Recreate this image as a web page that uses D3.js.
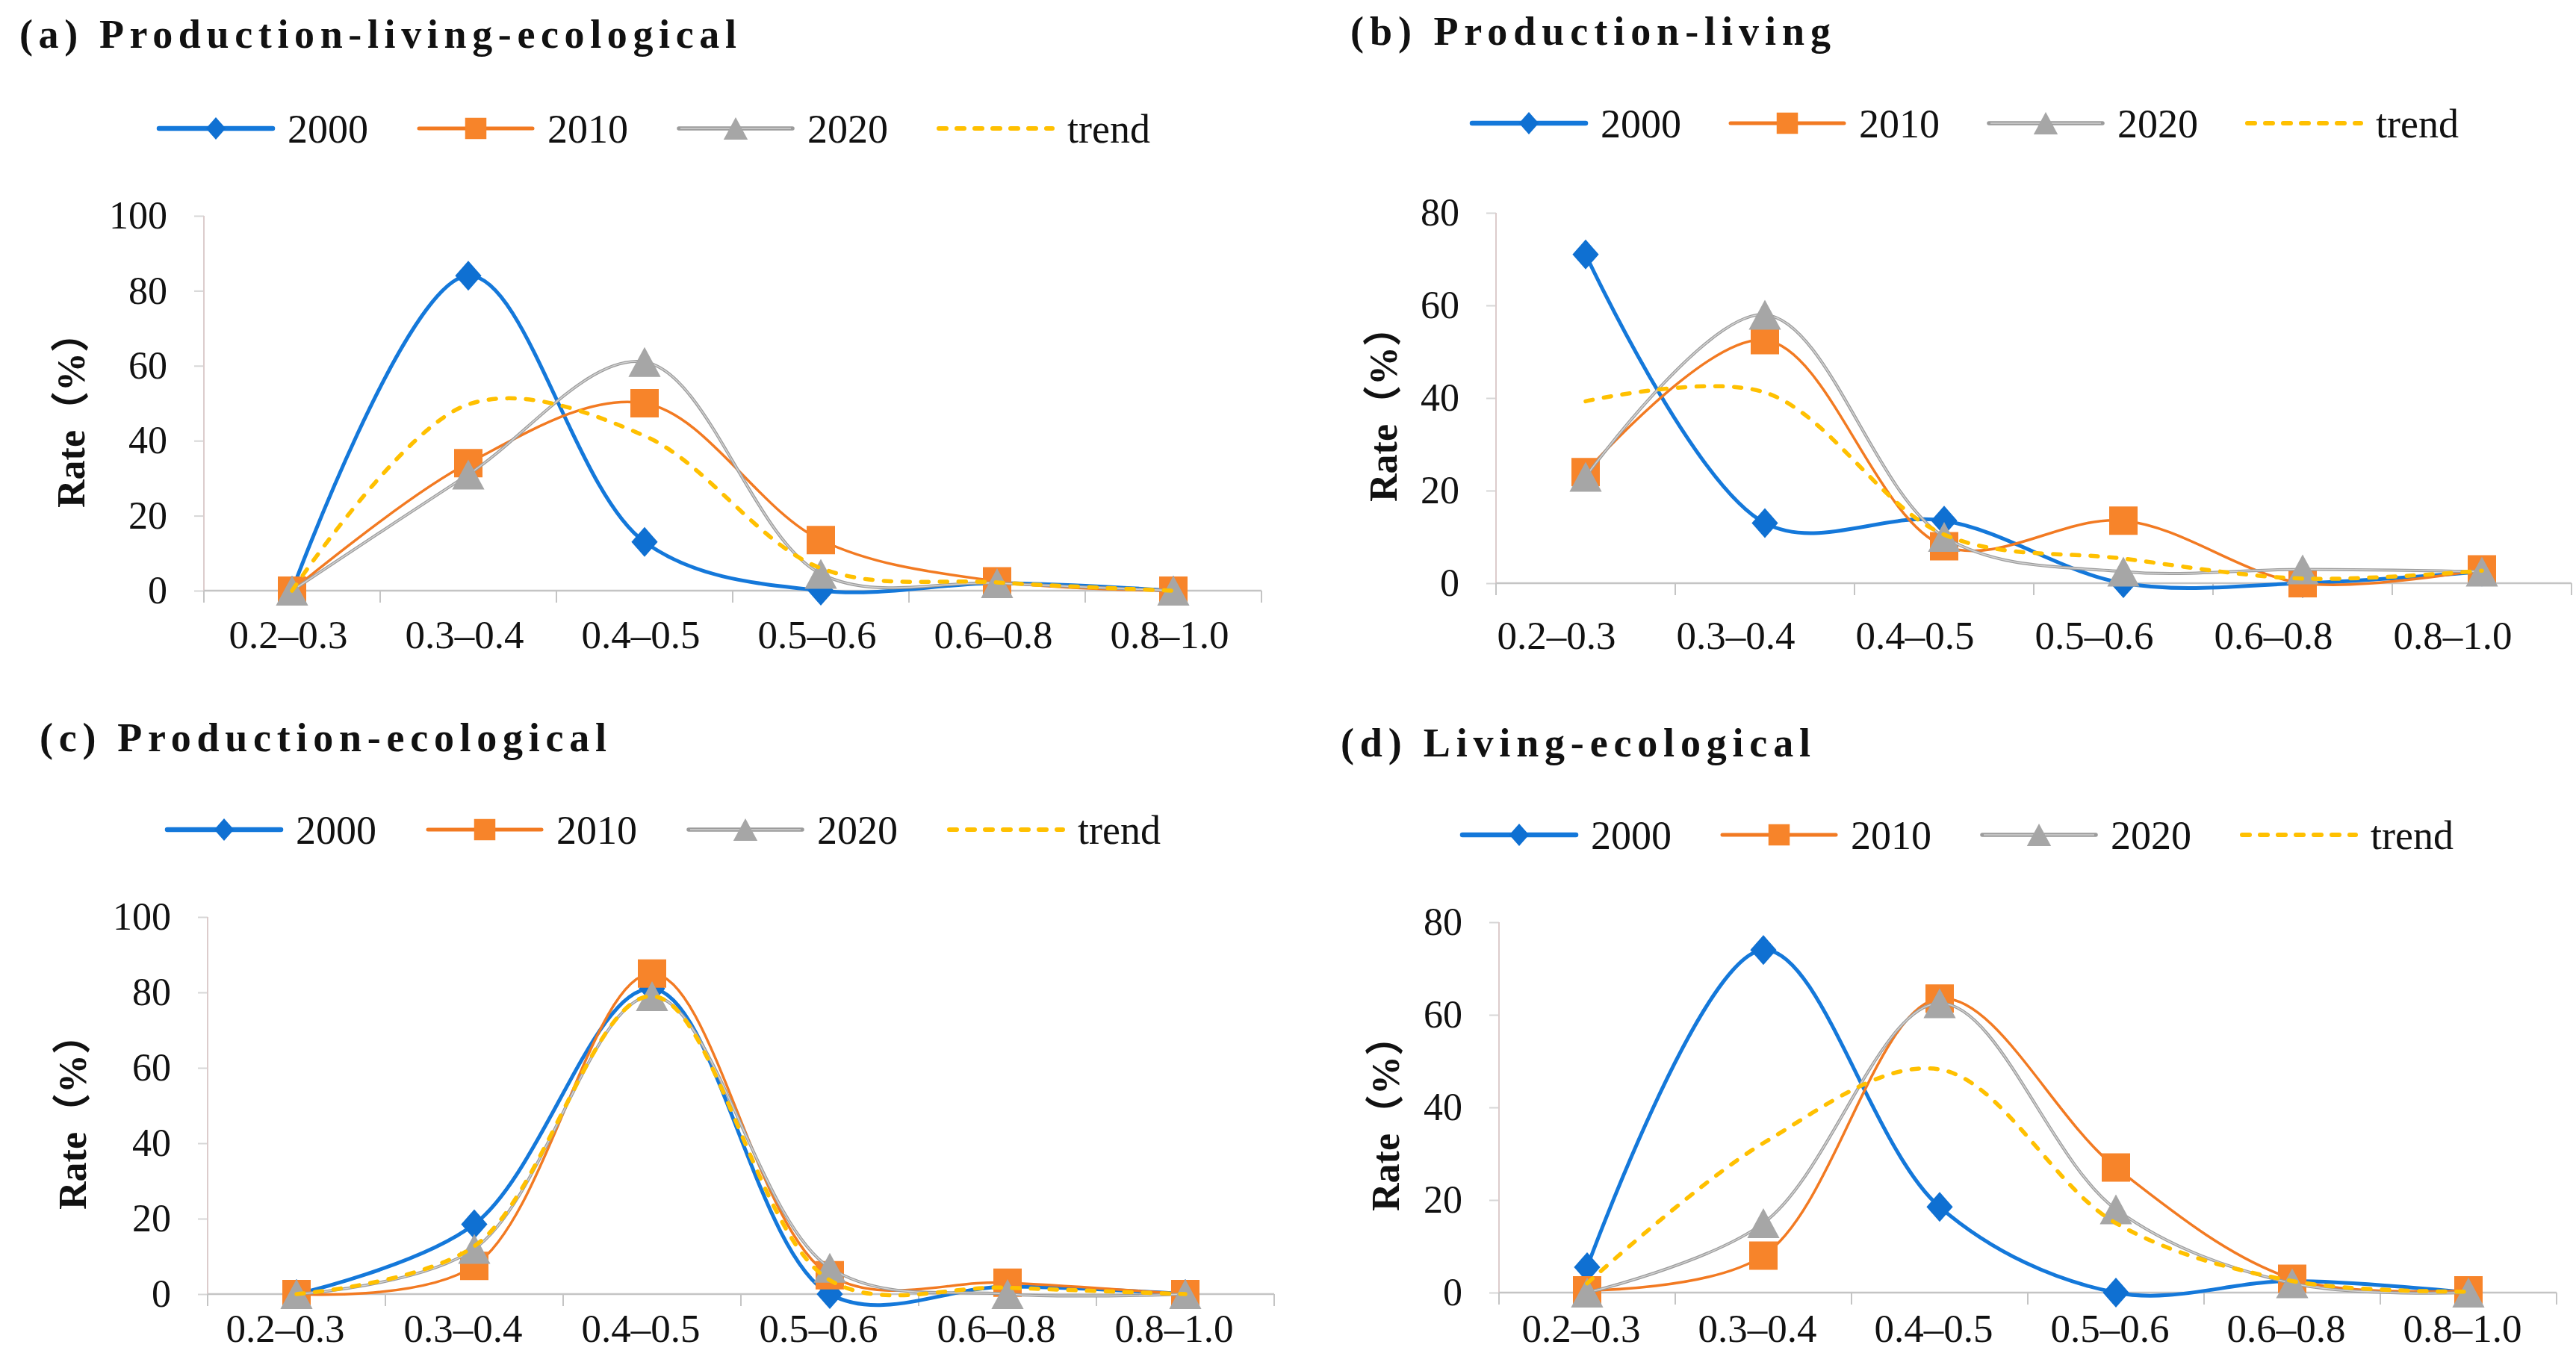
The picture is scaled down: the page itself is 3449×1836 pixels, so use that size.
<!DOCTYPE html>
<html><head><meta charset="utf-8">
<script src="https://cdn.jsdelivr.net/npm/d3@7"></script>
<style>html,body{margin:0;padding:0;background:#fff;} svg{display:block}</style>
</head><body>
<svg id="chart" width="3449" height="1836"></svg>
<script>
// ---------- data ----------
const categories = ["0.2–0.3", "0.3–0.4", "0.4–0.5", "0.5–0.6", "0.6–0.8", "0.8–1.0"];
const seriesNames = ["2000", "2010", "2020", "trend"];
const panelTitles = ["(a) Production-living-ecological", "(b) Production-living", "(c) Production-ecological", "(d) Living-ecological"];
const yAxisTitle = "Rate（%）";
const yTicks100 = [0, 20, 40, 60, 80, 100];
const yTicks80 = [0, 20, 40, 60, 80];

// (a) Production-living-ecological
const a2000 = [0, 84, 13, 0, 2, 0];
const a2010 = [0, 34, 50, 13.5, 2.5, 0];
const a2020 = [0, 31, 61, 4.5, 2, 0];
const aTrend = [0, 49.7, 41.3, 6, 2.2, 0];
// (b) Production-living
const b2000 = [71, 13, 13.5, 0, 0, 2.5];
const b2010 = [24, 52.5, 8, 13.5, 0, 3];
const b2020 = [23, 58, 10, 2.5, 3, 2.5];
const bTrend = [39.3, 41.2, 10.5, 5.3, 1, 2.7];
// (c) Production-ecological
const c2000 = [0, 18.5, 81, 0, 2, 0];
const c2010 = [0, 7.5, 85, 5, 3, 0];
const c2020 = [0, 12, 79, 7, 0, 0];
const cTrend = [0, 12.7, 79, 3.7, 1.7, 0];
// (d) Living-ecological
const d2000 = [5.5, 74, 18.5, 0, 2.5, 0];
const d2010 = [0.5, 8, 63.5, 27, 3, 0.5];
const d2020 = [0, 15, 62.5, 18, 2, 0];
const dTrend = [2, 32.3, 48.2, 15, 2.5, 0.2];

// ---------- layout / style ----------
const panels = [
  {title: panelTitles[0], series: [a2000, a2010, a2020, aTrend], ymax: 100, ticks: yTicks100,
   tx: 26, ty: 64, tw: 960, lx: 213, ly: 172, lp: 348,
   left: 273, band: 236, y0: 791, yTop: 289, labelDx: -5, labelBase: 77, atx: 113, aty: 550},
  {title: panelTitles[1], series: [b2000, b2010, b2020, bTrend], ymax: 80, ticks: yTicks80,
   tx: 1808, ty: 60, tw: 643, lx: 1971, ly: 165, lp: 346,
   left: 2003, band: 240, y0: 781, yTop: 285, labelDx: -39, labelBase: 88, atx: 1870, aty: 542},
  {title: panelTitles[2], series: [c2000, c2010, c2020, cTrend], ymax: 100, ticks: yTicks100,
   tx: 53, ty: 1006, tw: 759, lx: 224, ly: 1111, lp: 349,
   left: 278, band: 238, y0: 1733, yTop: 1228, labelDx: -15, labelBase: 64, atx: 115, aty: 1490},
  {title: panelTitles[3], series: [d2000, d2010, d2020, dTrend], ymax: 80, ticks: yTicks80,
   tx: 1795, ty: 1013, tw: 629, lx: 1958, ly: 1118, lp: 348,
   left: 2007, band: 236, y0: 1731, yTop: 1235, labelDx: -8, labelBase: 66, atx: 1873, aty: 1492}
];

const serif = "Liberation Serif, DejaVu Serif, Noto Sans CJK SC, serif";
const styles = [
  {stroke: "#1478DA", width: 5, fill: "#0F70D2", marker: "diamond"},
  {stroke: "#F27A22", width: 3.5, fill: "#F7842A", marker: "square"},
  {stroke: "#9c9c9c", width: 4, inner: "#d2d2d2", fill: "#A6A6A6", marker: "triangle"},
  {stroke: "#FFC000", width: 5.5, dash: "10,15", marker: null}
];

function markerPath(type, s) {
  if (type === "diamond") { const w = s * 0.88, h = s; return `M0,${-h/2}L${w/2},0L0,${h/2}L${-w/2},0Z`; }
  if (type === "square") { const h = s * 0.95 / 2; return `M${-h},${-h}H${h}V${h}H${-h}Z`; }
  if (type === "triangle") { const w = s * 1.08, h = s; return `M0,${-h/2}L${w/2},${h/2}L${-w/2},${h/2}Z`; }
  return "";
}

const svg = d3.select("#chart");
svg.append("rect").attr("width", 3449).attr("height", 1836).attr("fill", "#fff");

panels.forEach(p => {
  const g = svg.append("g");
  const x = d3.scaleBand().domain(categories).range([p.left, p.left + p.band * categories.length]);
  const y = d3.scaleLinear().domain([0, p.ymax]).range([p.y0, p.yTop]);
  const cx = c => x(c) + x.bandwidth() / 2;

  // title
  g.append("text").attr("x", p.tx).attr("y", p.ty)
    .style("font-family", serif).attr("font-weight", "bold").attr("font-size", 54)
    .attr("textLength", p.tw).attr("lengthAdjust", "spacing")
    .attr("fill", "#111").text(p.title);

  // legend
  seriesNames.forEach((name, i) => {
    const st = styles[i];
    const lx = p.lx + i * p.lp;
    const lg = g.append("g");
    const ln = lg.append("line").attr("x1", lx).attr("x2", lx + 152).attr("y1", p.ly).attr("y2", p.ly)
      .attr("stroke", st.stroke).attr("stroke-width", st.dash ? 6 : st.width + 1.5)
      .attr("stroke-linecap", "round");
    if (st.dash) ln.attr("stroke-dasharray", "10,14");
    if (st.inner) lg.append("line").attr("x1", lx + 2).attr("x2", lx + 150).attr("y1", p.ly).attr("y2", p.ly)
      .attr("stroke", st.inner).attr("stroke-width", 1.6);
    if (st.marker) lg.append("path").attr("d", markerPath(st.marker, 30))
      .attr("transform", `translate(${lx + 76},${p.ly})`).attr("fill", st.fill);
    lg.append("text").attr("x", lx + 172).attr("y", p.ly).attr("dy", "0.35em")
      .style("font-family", serif).attr("font-size", 54).attr("fill", "#111").text(name);
  });

  // y axis
  const yAxis = g.append("g").attr("transform", `translate(${p.left},0)`)
    .call(d3.axisLeft(y).tickValues(p.ticks).tickSize(13).tickPadding(36).tickFormat(d3.format("d")));
  yAxis.select(".domain").remove();
  yAxis.selectAll(".tick line").attr("stroke", "#d6d6d6").attr("stroke-width", 2);
  yAxis.selectAll(".tick text").style("font-family", serif).attr("font-size", 52).attr("fill", "#111");
  g.append("line").attr("x1", p.left).attr("x2", p.left).attr("y1", p.yTop).attr("y2", p.y0 + 16)
    .attr("stroke", "#dccccc").attr("stroke-width", 2);

  // x axis
  const xr = x.range();
  g.append("line").attr("x1", xr[0]).attr("x2", xr[1]).attr("y1", p.y0).attr("y2", p.y0)
    .attr("stroke", "#c4c4c4").attr("stroke-width", 2.5);
  const bounds = categories.map(c => x(c)).concat([xr[1]]);
  g.selectAll(".xb").data(bounds).enter().append("line")
    .attr("x1", d => d).attr("x2", d => d).attr("y1", p.y0).attr("y2", p.y0 + 16)
    .attr("stroke", "#c4c4c4").attr("stroke-width", 2);
  const xAxis = g.append("g").attr("transform", `translate(${p.labelDx},${p.y0})`)
    .call(d3.axisBottom(x).tickSize(0).tickPadding(0));
  xAxis.select(".domain").remove();
  xAxis.selectAll(".tick text").attr("y", p.labelBase).attr("dy", 0)
    .style("font-family", serif).attr("font-size", 53).attr("fill", "#111");

  // axis title
  g.append("text").attr("transform", `translate(${p.atx},${p.aty}) rotate(-90)`)
    .attr("text-anchor", "middle").style("font-family", serif).attr("font-weight", "bold")
    .attr("font-size", 52).attr("fill", "#111").text(yAxisTitle);

  // series
  const line = d3.line().x((d, i) => cx(categories[i])).y(d => y(d)).curve(d3.curveCatmullRom.alpha(0.5));
  p.series.forEach((vals, i) => {
    const st = styles[i];
    const sg = g.append("g");
    const path = sg.append("path").attr("d", line(vals)).attr("fill", "none")
      .attr("stroke", st.stroke).attr("stroke-width", st.width).attr("stroke-linecap", "round");
    if (st.dash) path.attr("stroke-dasharray", st.dash);
    if (st.inner) sg.append("path").attr("d", line(vals)).attr("fill", "none")
      .attr("stroke", st.inner).attr("stroke-width", 1.5);
    if (st.marker) sg.selectAll(".m").data(vals).enter().append("path")
      .attr("d", markerPath(st.marker, 40))
      .attr("transform", (d, k) => `translate(${cx(categories[k])},${y(d)})`)
      .attr("fill", st.fill);
  });
});
</script>
</body></html>
